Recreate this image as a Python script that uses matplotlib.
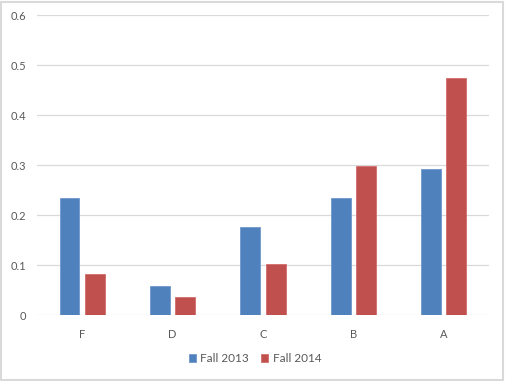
import numpy as np
import matplotlib
matplotlib.use("Agg")
import matplotlib.pyplot as plt
from matplotlib.patches import Rectangle

grades = ["F", "D", "C", "B", "A"]
fall_2013 = [0.235, 0.058, 0.176, 0.235, 0.293]
fall_2014 = [0.083, 0.037, 0.102, 0.299, 0.475]
y_ticks = [0, 0.1, 0.2, 0.3, 0.4, 0.5, 0.6]
y_labels = ["0", "0.1", "0.2", "0.3", "0.4", "0.5", "0.6"]

plt.rcParams["font.family"] = ["Lato", "DejaVu Sans"]

fig = plt.figure(figsize=(5.05, 3.81), dpi=100)
ax = fig.add_axes([0.0733, 0.1724, 0.8947, 0.7876])

x = np.arange(len(grades))
width = 0.22
offset = 0.14
blue = "#4F81BD"
red = "#C0504D"

ax.bar(x - offset, fall_2013, width, color=blue, edgecolor="#6E98CC", linewidth=0.6,
       label="Fall 2013", zorder=3)
ax.bar(x + offset, fall_2014, width, color=red, edgecolor="#D26E6B", linewidth=0.6,
       label="Fall 2014", zorder=3)

ax.set_xlim(-0.5, len(grades) - 0.5)
ax.set_ylim(0, 0.6)
ax.set_yticks(y_ticks)
ax.set_yticklabels(y_labels)
ax.set_xticks(x)
ax.set_xticklabels(grades)

ax.grid(axis="y", color="#D9D9D9", linewidth=0.9, zorder=0)
for s in ax.spines.values():
    s.set_visible(False)
ax.tick_params(axis="both", length=0, colors="#595959", labelsize=8)
ax.tick_params(axis="y", pad=8)
ax.tick_params(axis="x", pad=10)

fig.legend(loc="center", bbox_to_anchor=(0.505, 0.058), ncol=2, frameon=False,
           fontsize=8.5, handlelength=0.6, handleheight=0.6, handletextpad=0.4,
           columnspacing=1.0, labelcolor="#595959")

fig.patches.append(Rectangle((0.002, 0.003), 0.994, 0.993, transform=fig.transFigure,
                             fill=False, edgecolor="#D9D9D9", linewidth=1.5))

fig.savefig("out.png", dpi=100)
